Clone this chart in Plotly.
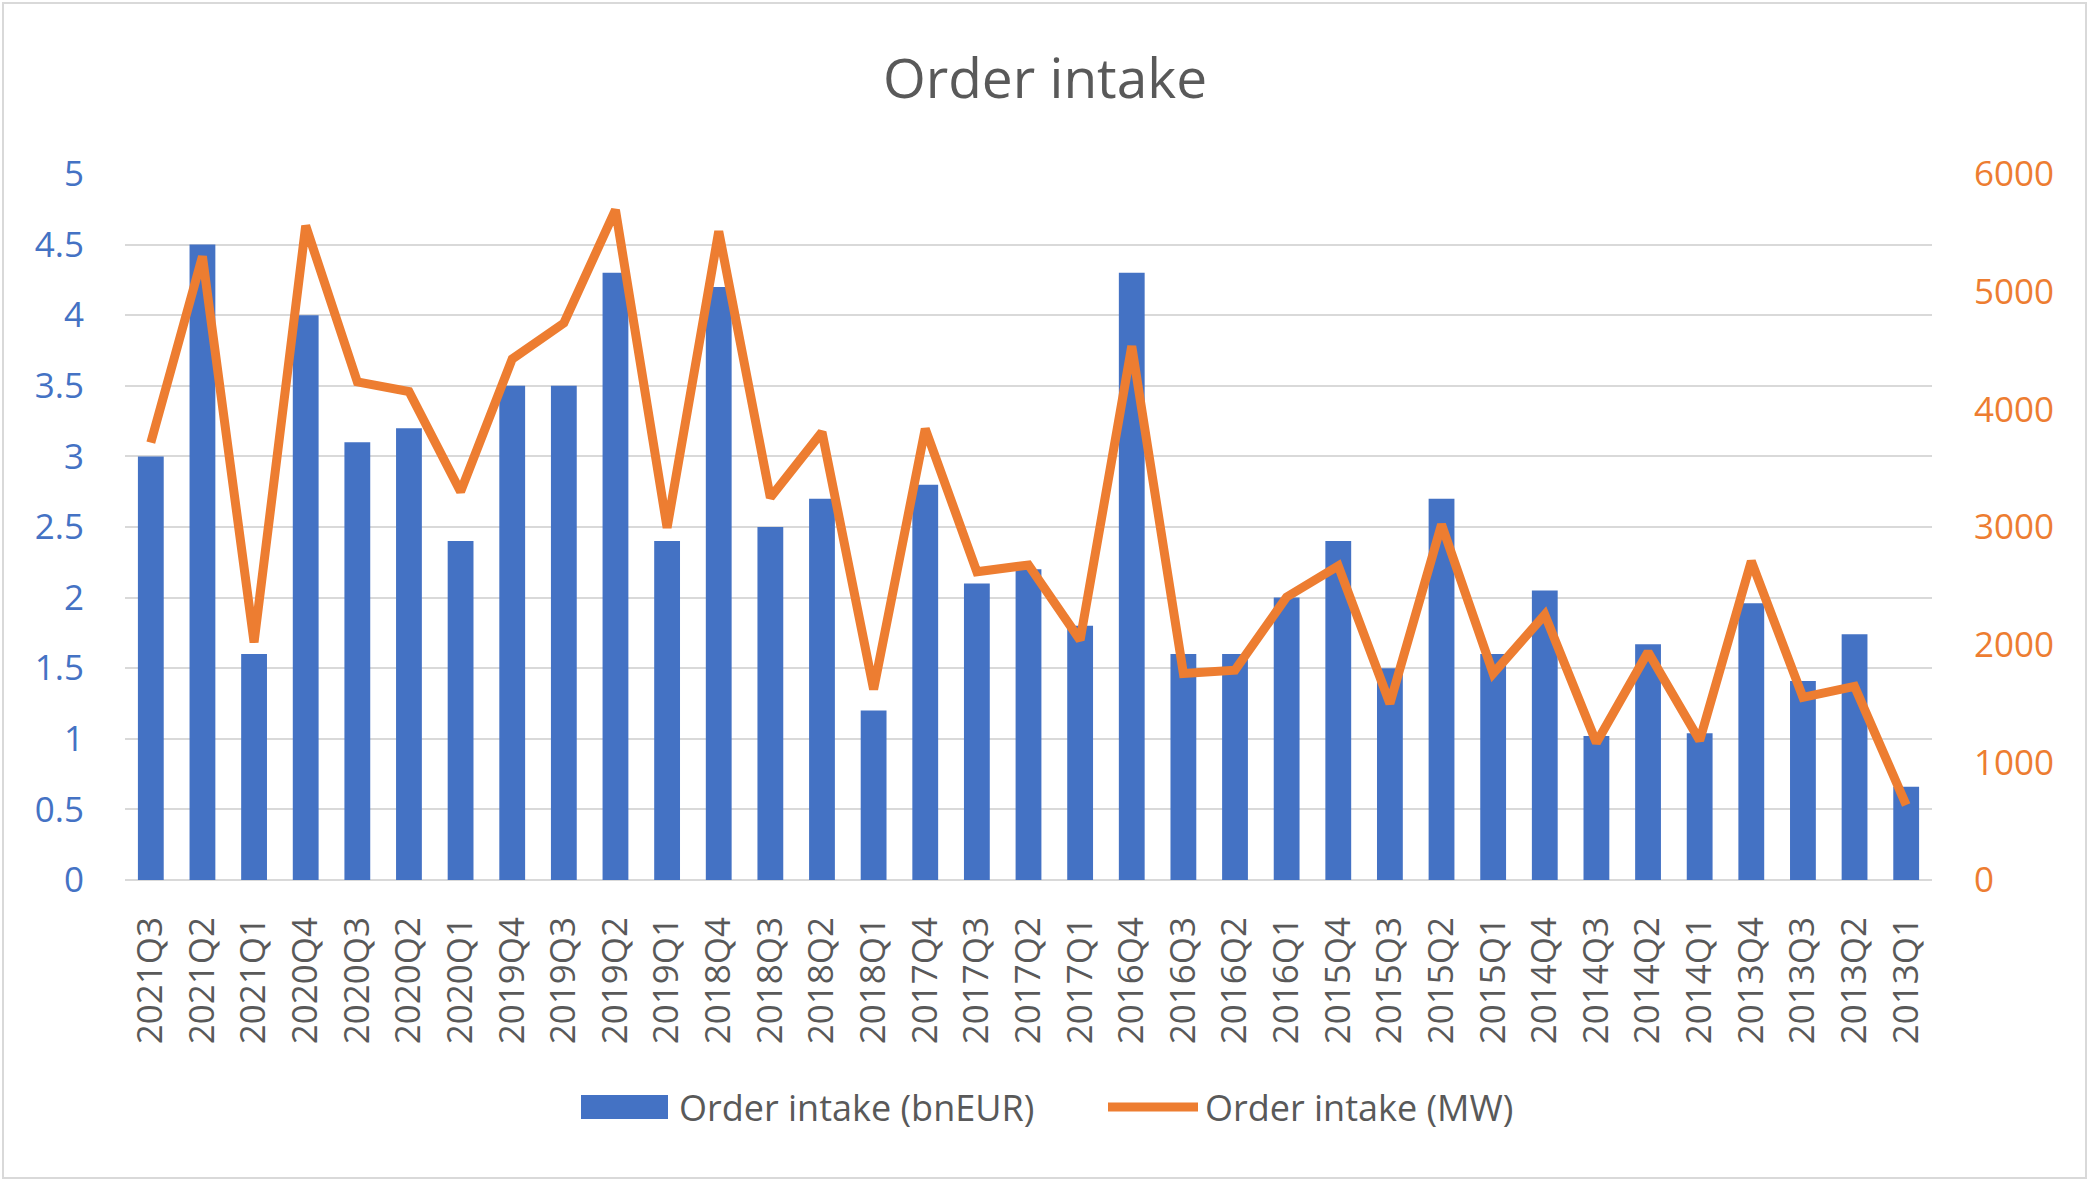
import plotly.graph_objects as go

quarters = ["2021Q3", "2021Q2", "2021Q1", "2020Q4", "2020Q3", "2020Q2", "2020Q1",
            "2019Q4", "2019Q3", "2019Q2", "2019Q1", "2018Q4", "2018Q3", "2018Q2",
            "2018Q1", "2017Q4", "2017Q3", "2017Q2", "2017Q1", "2016Q4", "2016Q3",
            "2016Q2", "2016Q1", "2015Q4", "2015Q3", "2015Q2", "2015Q1", "2014Q4",
            "2014Q3", "2014Q2", "2014Q1", "2013Q4", "2013Q3", "2013Q2", "2013Q1"]

order_bneur = [3.0, 4.5, 1.6, 4.0, 3.1, 3.2, 2.4, 3.5, 3.5, 4.3, 2.4, 4.2, 2.5, 2.7,
               1.2, 2.8, 2.1, 2.2, 1.8, 4.3, 1.6, 1.6, 2.0, 2.4, 1.5, 2.7, 1.6, 2.05,
               1.02, 1.67, 1.04, 1.96, 1.41, 1.74, 0.66]

order_mw = [3717, 5300, 2020, 5560, 4233, 4152, 3300, 4428, 4733, 5695, 2994, 5513,
            3250, 3806, 1621, 3835, 2620, 2677, 2039, 4537, 1755, 1783, 2405, 2669,
            1499, 3022, 1755, 2255, 1166, 1938, 1186, 2710, 1552, 1645, 638]

left_ticks = [0, 0.5, 1, 1.5, 2, 2.5, 3, 3.5, 4, 4.5, 5]
right_ticks = [0, 1000, 2000, 3000, 4000, 5000, 6000]

series_names = ["Order intake (bnEUR)", "Order intake (MW)"]

BLUE = "#4472C4"
ORANGE = "#ED7D31"
GRID = "#D9D9D9"
TEXT = "#595959"
FONT = "Open Sans"

W, H = 2090, 1182
ML, MR, MT, MB = 125, 158, 174, 302

fig = go.Figure()
fig.add_trace(go.Bar(x=quarters, y=order_bneur, name=series_names[0],
                     marker=dict(color=BLUE, line=dict(width=0)), yaxis="y",
                     showlegend=False))
fig.add_trace(go.Scatter(x=quarters, y=order_mw, name=series_names[1], mode="lines",
                         line=dict(color=ORANGE, width=9), yaxis="y2",
                         showlegend=False))

pw = W - ML - MR
ph = H - MT - MB
def px_x(p):
    return (p - ML) / pw
def px_y(p):
    return (H - MB - p) / ph

# outer chart border
fig.add_shape(type="rect", xref="paper", yref="paper",
              x0=px_x(3), x1=px_x(W - 4), y0=px_y(H - 4), y1=px_y(3),
              line=dict(color="#D9D9D9", width=2), fillcolor="rgba(0,0,0,0)", layer="below")

# legend (drawn manually to match wide swatches)
LEG_Y = 1107
fig.add_shape(type="rect", xref="paper", yref="paper",
              x0=px_x(581), x1=px_x(668), y0=px_y(1119), y1=px_y(1095),
              line=dict(width=0), fillcolor=BLUE)
fig.add_annotation(text=series_names[0], xref="paper", yref="paper",
                   x=px_x(677), y=px_y(LEG_Y), xanchor="left", yanchor="middle",
                   showarrow=False, font=dict(family=FONT, size=36, color=TEXT))
fig.add_shape(type="line", xref="paper", yref="paper",
              x0=px_x(1108), x1=px_x(1198), y0=px_y(LEG_Y), y1=px_y(LEG_Y),
              line=dict(color=ORANGE, width=9))
fig.add_annotation(text=series_names[1], xref="paper", yref="paper",
                   x=px_x(1203), y=px_y(LEG_Y), xanchor="left", yanchor="middle",
                   showarrow=False, font=dict(family=FONT, size=36, color=TEXT))

fig.update_layout(
    width=W, height=H,
    autosize=False,
    margin=dict(l=ML, r=MR, t=MT, b=MB, autoexpand=False),
    paper_bgcolor="white", plot_bgcolor="white",
    font=dict(family=FONT, size=35, color=TEXT),
    title=dict(text="Order intake", x=0.5, xanchor="center", xref="container",
               y=1 - 79 / H, yanchor="middle", yref="container",
               font=dict(family=FONT, size=55, color=TEXT)),
    bargap=0.5,
    showlegend=False,
    xaxis=dict(type="category", tickangle=-90, showgrid=False, showline=False,
               tickmode="array", tickvals=quarters, ticktext=quarters,
               ticks="outside", ticklen=22, tickcolor="rgba(0,0,0,0)",
               tickfont=dict(size=35, color=TEXT), automargin=False),
    yaxis=dict(range=[0, 5], tickvals=left_ticks, ticktext=[f"{v:g}" for v in left_ticks],
               showgrid=True, gridcolor=GRID, gridwidth=2, zeroline=True, zerolinecolor=GRID,
               zerolinewidth=2, showline=False, ticks="outside", ticklen=33,
               tickcolor="rgba(0,0,0,0)", tickfont=dict(size=35, color=BLUE), automargin=False),
    yaxis2=dict(range=[0, 6000], tickvals=right_ticks, overlaying="y", side="right",
                showgrid=False, zeroline=False, showline=False, ticks="outside", ticklen=34,
                tickcolor="rgba(0,0,0,0)", tickfont=dict(size=35, color=ORANGE), automargin=False),
)

fig.write_html("out.html")
